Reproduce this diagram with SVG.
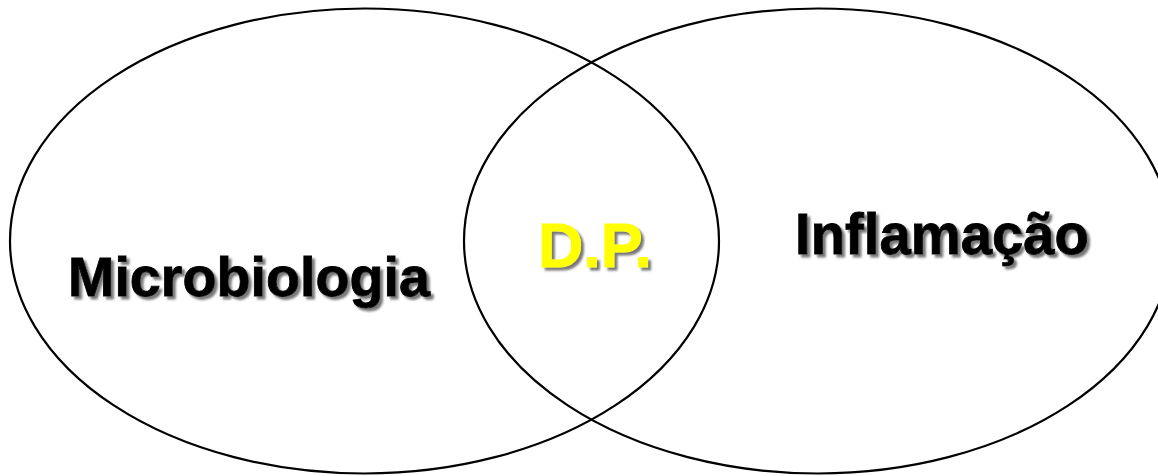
<svg xmlns="http://www.w3.org/2000/svg" width="1158" height="476" viewBox="0 0 1158 476">
  <style>
    .circle { fill: none; stroke: #000; stroke-width: 2.2; }
    .lbl { font-family: "Liberation Sans", Arial, sans-serif; font-weight: bold; filter: url(#shadow); stroke-width: 0.9; }
  </style>
  <defs>
    <filter id="shadow" x="-10%" y="-20%" width="120%" height="150%">
      <feDropShadow dx="3" dy="3" stdDeviation="1.3" flood-color="#6a6a6a" flood-opacity="0.9"/>
    </filter>
  </defs>
  <rect width="1158" height="476" fill="#fff"/>
  <g id="connectors"></g>
  <g id="microbiologia">
    <ellipse class="circle" cx="364.5" cy="241" rx="354.5" ry="232.5"/>
    <text class="lbl" x="68" y="296" font-size="56" fill="#000" stroke="#000" textLength="362" lengthAdjust="spacingAndGlyphs">Microbiologia</text>
  </g>
  <g id="inflamacao">
    <ellipse class="circle" cx="818" cy="241" rx="354" ry="232.5"/>
    <text class="lbl" x="795" y="254" font-size="57" fill="#000" stroke="#000" textLength="294" lengthAdjust="spacingAndGlyphs">Inflamação</text>
  </g>
  <g id="dp">
    <text class="lbl" x="538" y="267" font-size="63" fill="#ffff00" stroke="#ffff00" textLength="114" lengthAdjust="spacingAndGlyphs">D.P.</text>
  </g>
</svg>
